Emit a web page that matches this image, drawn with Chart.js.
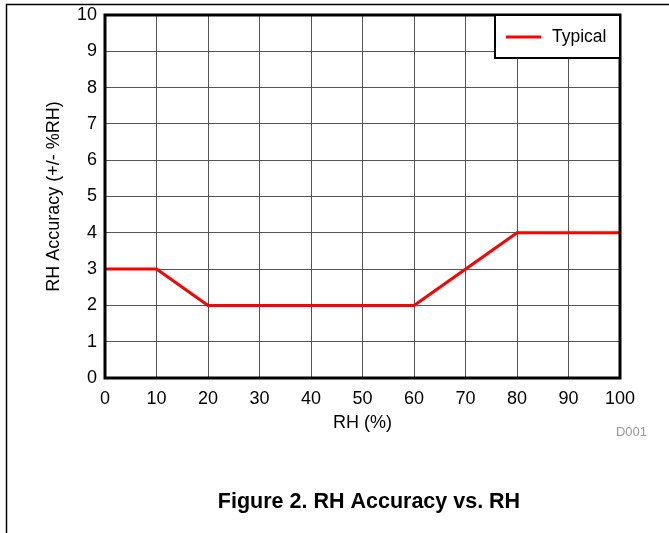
<!DOCTYPE html>
<html>
<head>
<meta charset="utf-8">
<script src="https://cdn.jsdelivr.net/npm/chart.js@4.4.1/dist/chart.umd.min.js"></script>
<style>
  html, body { margin: 0; padding: 0; background: #fff; }
  #wrap { width: 669px; height: 533px; position: relative; }
</style>
</head>
<body>
<div id="wrap"><canvas id="rhChart" width="669" height="533"></canvas></div>
<script>
  // Data
  const rhValues       = [0, 10, 20, 60, 80, 100];
  const accuracyValues = [3, 3, 2, 2, 4, 4];
  const seriesName     = 'Typical';
  const xTitle         = 'RH (%)';
  const yTitle         = 'RH Accuracy (+/- %RH)';
  const caption        = 'Figure 2. RH Accuracy vs. RH';
  const docId          = 'D001';

  const FONT = "'Liberation Sans', Arial, sans-serif";

  // Plugin - frame, border, legend, texts
  const decorations = {
    id: 'decorations',
    beforeDraw(chart) {
      const { ctx } = chart;
      ctx.save();
      ctx.fillStyle = '#fff';
      ctx.fillRect(0, 0, chart.width, chart.height);
      // outer figure frame (top + left)
      ctx.strokeStyle = '#000';
      ctx.lineWidth = 1.5;
      ctx.beginPath();
      ctx.moveTo(669, 4.5);
      ctx.lineTo(6.5, 4.5);
      ctx.lineTo(6.5, 533);
      ctx.stroke();
      ctx.restore();
    },
    afterDatasetsDraw(chart) {
      const { ctx, chartArea: a } = chart;
      ctx.save();
      // plot border
      ctx.strokeStyle = '#000';
      ctx.lineWidth = 3;
      ctx.strokeRect(a.left, a.top, a.right - a.left, a.bottom - a.top);

      // legend box
      const bx = 495, by = a.top, bw = a.right - bx, bh = 43;
      ctx.fillStyle = '#fff';
      ctx.fillRect(bx, by, bw, bh);
      ctx.lineWidth = 2;
      ctx.strokeRect(bx, by, bw, bh);
      ctx.strokeStyle = '#ff0000';
      ctx.lineWidth = 3;
      ctx.beginPath();
      ctx.moveTo(506, by + 22);
      ctx.lineTo(541, by + 22);
      ctx.stroke();
      ctx.fillStyle = '#000';
      ctx.font = '17.5px ' + FONT;
      ctx.textAlign = 'left';
      ctx.textBaseline = 'middle';
      ctx.fillText(seriesName, 552, by + 22);

      // axis titles
      ctx.font = '18px ' + FONT;
      ctx.textAlign = 'center';
      ctx.fillText(xTitle, (a.left + a.right) / 2, 423);
      ctx.save();
      ctx.translate(54, (a.top + a.bottom) / 2);
      ctx.rotate(-Math.PI / 2);
      ctx.fillText(yTitle, 0, 0);
      ctx.restore();

      // document id
      ctx.fillStyle = '#999';
      ctx.font = '13px ' + FONT;
      ctx.textAlign = 'right';
      ctx.fillText(docId, 647, 432);

      // caption
      ctx.fillStyle = '#000';
      ctx.font = 'bold 21.5px ' + FONT;
      ctx.textAlign = 'center';
      ctx.fillText(caption, 369, 502);
      ctx.restore();
    }
  };

  const config = {
    type: 'line',
    data: {
      datasets: [{
        label: seriesName,
        data: rhValues.map((x, i) => ({ x: x, y: accuracyValues[i] })),
        borderColor: '#ff0000',
        borderWidth: 3,
        pointRadius: 0,
        tension: 0,
        fill: false,
      }]
    },
    options: {
      responsive: false,
      animation: false,
      layout: { padding: { top: 15, right: 49, left: 0, bottom: 0 } },
      scales: {
        x: {
          type: 'linear',
          min: 0,
          max: 100,
          ticks: { stepSize: 10, color: '#000', padding: 10, font: { family: FONT, size: 18 } },
          grid: { color: '#555', lineWidth: 1, drawTicks: false },
          border: { display: false },
          afterFit(scale) { scale.height = 155; }
        },
        y: {
          min: 0,
          max: 10,
          ticks: { stepSize: 1, color: '#000', padding: 8, font: { family: FONT, size: 18 } },
          grid: { color: '#555', lineWidth: 1, drawTicks: false },
          border: { display: false },
          afterFit(scale) {
            scale.width = 105;
            scale.paddingTop = 0;   // labels may overflow the top
            scale.paddingBottom = 0;
          }
        }
      },
      plugins: {
        legend: { display: false },
        tooltip: { enabled: false }
      }
    },
    plugins: [decorations]
  };

  const rhChart = new Chart(document.getElementById('rhChart'), config);
</script>
</body>
</html>
